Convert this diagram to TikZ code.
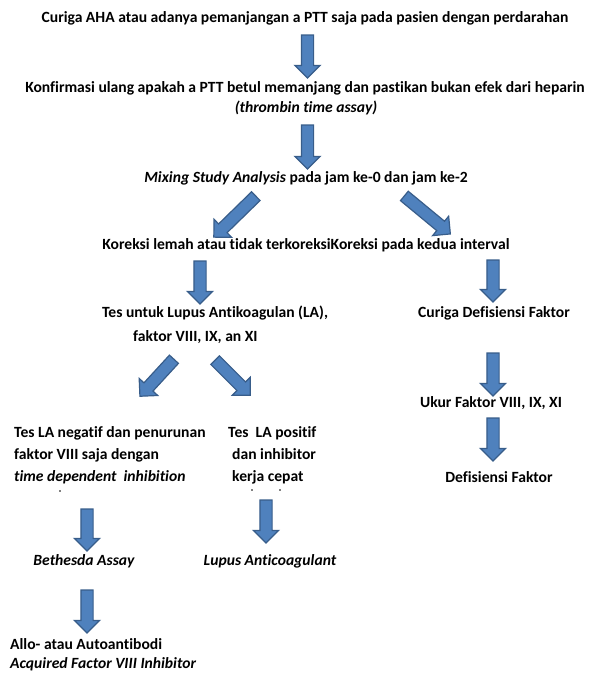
\documentclass[tikz,border=0pt]{standalone}
\usepackage{fontspec}
\setmainfont{Carlito}[Ligatures=NoCommon]
\usetikzlibrary{shapes.arrows,calc}

\definecolor{arrowfill}{RGB}{79,129,189}
\definecolor{arrowline}{RGB}{56,93,138}

\tikzset{
  txt/.style={font=\fontsize{15.6}{22}\selectfont\bfseries, inner sep=0pt},
  blockarr/.style={single arrow, draw=arrowline, fill=arrowfill, line width=1.2pt,
    single arrow head extend=6.5pt, single arrow head indent=0pt,
    inner xsep=0pt, inner ysep=5.5pt, outer sep=0pt}
}
\newcommand{\blockarrow}[2]{%
  \path let \p1=($(#2)-(#1)$), \n1={veclen(\x1,\y1)} in
    (#1) -- (#2) node[blockarr, midway, sloped, allow upside down, minimum height=\n1]{};}

\begin{document}
\begin{tikzpicture}[x=1pt, y=-1pt]
  \useasboundingbox (0,0) rectangle (590,673);

  \node[txt] (curiga) at (305,18) {Curiga AHA atau adanya pemanjangan a PTT saja pada pasien dengan perdarahan};
  \node[txt] (konf) at (305,88) {Konfirmasi ulang apakah a PTT betul memanjang dan pastikan bukan efek dari heparin};
  \node[txt] (tta) at (306,108) {\itshape (thrombin time assay)};
  \node[txt] (mix) at (306,178) {{\itshape Mixing Study Analysis} pada jam ke-0 dan jam ke-2};
  \node[txt] (kor) at (306,245) {Koreksi lemah atau tidak terkoreksiKoreksi pada kedua interval};

  \node[txt] (lupus) at (215,313) {Tes untuk Lupus Antikoagulan (LA),};
  \node[txt, anchor=west] (lupus2) at (133,337) {faktor VIII, IX, an XI};
  \node[txt] (cdf) at (494,313) {Curiga Defisiensi Faktor};
  \node[txt] (ukur) at (491,403) {Ukur Faktor VIII, IX, XI};
  \node[txt] (def) at (499,477) {Defisiensi Faktor};

  \node[txt, anchor=north west, align=left] (neg) at (14,426) {Tes LA negatif dan penurunan\\ faktor VIII saja dengan\\ \itshape time dependent\ \ inhibition};
  \node[txt, anchor=north west, align=left] (pos) at (228,426) {Tes\ \ LA positif\\ \hspace*{4pt}dan inhibitor\\ \hspace*{4pt}kerja cepat};
  \fill (60,491) circle (0.8) (252,490) circle (0.8) (280,490) circle (0.8);

  \node[txt] (beth) at (84,561) {\itshape Bethesda Assay};
  \node[txt] (lac) at (270,561) {\itshape Lupus Anticoagulant};
  \node[txt, anchor=west] (allo) at (10,644) {Allo- atau Autoantibodi};
  \node[txt, anchor=west] (afi) at (10,664) {\itshape Acquired Factor VIII Inhibitor};

  % arrow ends
  \coordinate (a1s) at (307.5,32);  \coordinate (a1e) at (307.5,75);
  \coordinate (a2s) at (307.5,122); \coordinate (a2e) at (307.5,166);
  \coordinate (a3s) at (258,194);   \coordinate (a3e) at (216,235);
  \coordinate (a4s) at (402,194);   \coordinate (a4e) at (448,232);
  \coordinate (a5s) at (200,258);   \coordinate (a5e) at (200,301);
  \coordinate (a6s) at (493,257);   \coordinate (a6e) at (493,299);
  \coordinate (a7s) at (176,357);   \coordinate (a7e) at (142,394);
  \coordinate (a8s) at (213,358);   \coordinate (a8e) at (248,393);
  \coordinate (a9s) at (493,350);   \coordinate (a9e) at (493,393);
  \coordinate (a10s) at (493,415);  \coordinate (a10e) at (493,458);
  \coordinate (a11s) at (87,506);   \coordinate (a11e) at (87,548);
  \coordinate (a12s) at (266,497);  \coordinate (a12e) at (266,540);
  \coordinate (a13s) at (87,587);   \coordinate (a13e) at (87,630);

  \foreach \i in {1,...,13} {\blockarrow{a\i s}{a\i e}}
\end{tikzpicture}
\end{document}
